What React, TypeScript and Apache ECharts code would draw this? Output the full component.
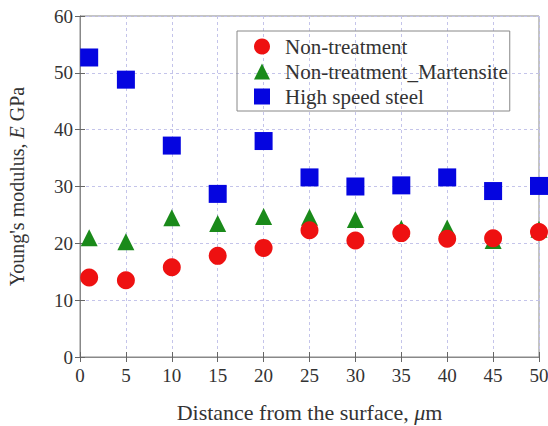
import React, { useEffect, useRef } from "react";
import * as echarts from "echarts";

const xs = [1, 5, 10, 15, 20, 25, 30, 35, 40, 45, 50];
const nonTreatment = [14, 13.5, 15.8, 17.8, 19.2, 22.3, 20.5, 21.8, 20.8, 20.9, 22];
const martensite = [21, 20.3, 24.5, 23.5, 24.7, 24.6, 24.2, 22.6, 22.7, 20.5, 22.5];
const highSpeed = [52.7, 48.8, 37.2, 28.7, 38, 31.6, 30, 30.2, 31.6, 29.2, 30.1];
const names = ["Non-treatment", "Non-treatment_Martensite", "High speed steel"];

const font = "'Liberation Serif', 'Times New Roman', serif";
const txt = "#333";

export default function App() {
  const ref = useRef<HTMLDivElement>(null);
  useEffect(() => {
    const chart = echarts.init(ref.current!, null, { renderer: "svg" });
    const pair = (v: number[]) => xs.map((x, i) => [x, v[i]]);
    const grid = { lineStyle: { color: "#c4c4ea", type: [3, 3] as any, width: 1 } };
    const axisLine = { lineStyle: { color: "#888", width: 1 } };
    const tick = { inside: true, length: 5, lineStyle: { color: "#666" } };
    const normal = { fontStyle: "normal", fontWeight: "normal", fontFamily: font, fontSize: 20, color: txt };
    const italic = { ...normal, fontStyle: "italic" };
    const xn = { ...normal, fontSize: 22 };
    const xi = { ...italic, fontSize: 22 };
    chart.setOption({
      animation: false,
      backgroundColor: "#fff",
      textStyle: { fontFamily: font, fontStyle: "normal", fontWeight: "normal" },
      grid: { left: 80, right: 9, top: 16, bottom: 69, show: true, borderColor: "#888", borderWidth: 1, containLabel: false, outerBoundsMode: "none" },
      legend: {
        orient: "vertical",
        left: 237,
        top: 31,
        data: names,
        itemWidth: 16,
        itemHeight: 16,
        itemGap: 4,
        padding: [5, 2, 4, 17],
        borderColor: "#888",
        borderWidth: 1,
        textStyle: { ...normal, fontSize: 21, lineHeight: 21, padding: [0, 0, 0, 10] },
      },
      xAxis: [
        {
          type: "value", min: 0, max: 50, interval: 5,
          axisLine, axisTick: tick, splitLine: { show: true, ...grid },
          axisLabel: { ...normal, fontSize: 19, margin: 9 },
          name: "{n|Distance from the surface, }{i|μ}{n|m}",
          nameLocation: "middle", nameGap: 44,
          nameTextStyle: { ...xn, rich: { n: xn, i: xi } },
        },
        { type: "value", min: 0, max: 50, interval: 5, position: "top", axisLine, axisTick: tick, axisLabel: { show: false }, splitLine: { show: false } },
      ],
      yAxis: [
        {
          type: "value", min: 0, max: 60, interval: 10,
          axisLine, axisTick: tick, splitLine: { show: true, ...grid },
          axisLabel: { ...normal, fontSize: 19, margin: 7 },
          name: "{n|Young's modulus, }{i|E}{n| GPa}",
          nameLocation: "middle", nameGap: 53,
          nameTextStyle: { ...normal, rich: { n: normal, i: italic } },
        },
        { type: "value", min: 0, max: 60, interval: 10, position: "right", axisLine, axisTick: tick, axisLabel: { show: false }, splitLine: { show: false } },
      ],
      series: [
        { name: names[2], type: "scatter", symbol: "rect", symbolSize: 18, data: pair(highSpeed), itemStyle: { color: "#0505e0", opacity: 1 }, z: 2 },
        { name: names[1], type: "scatter", symbol: "triangle", symbolSize: 17, data: pair(martensite), itemStyle: { color: "#1a8a1a", opacity: 1 }, z: 3 },
        { name: names[0], type: "scatter", symbol: "circle", symbolSize: 18, data: pair(nonTreatment), itemStyle: { color: "#ee1111", opacity: 1 }, z: 4 },
      ],
    });
    return () => chart.dispose();
  }, []);
  return <div ref={ref} style={{ width: 548, height: 426, position: "absolute", left: 0, top: 0 }} />;
}
